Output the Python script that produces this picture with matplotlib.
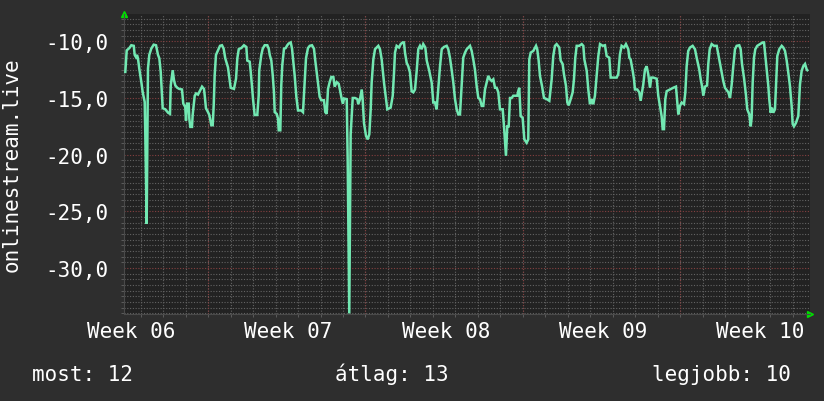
import numpy as np
import matplotlib
matplotlib.use("Agg")
import matplotlib.pyplot as plt
from matplotlib.ticker import FixedLocator, MultipleLocator, FuncFormatter, NullFormatter

# hours since start of graph window, and measured value
HOURS = [
    1.4, 2.9, 5.7, 7.8, 10.4, 11.4, 12.8, 13.9, 14.9, 16.3, 18.5, 20.0, 22.1, 22.7, 24.2, 24.9,
    25.6, 27.0, 29.1, 31.7, 34.2, 36.3, 37.7, 39.2, 40.6, 41.3, 44.1, 47.0, 49.1, 49.9, 52.0,
    53.4, 54.8, 56.9, 59.0, 61.9, 63.3, 65.4, 66.2, 67.3, 69.1, 69.7, 70.8, 72.6, 73.3, 75.5,
    76.9, 79.0, 81.5, 83.3, 85.4, 86.2, 87.5, 89.7, 91.1, 93.2, 94.7, 95.8, 96.8, 98.2, 100.4,
    102.5, 104.6, 106.4, 108.1, 111.0, 112.4, 113.9, 117.4, 119.6, 121.0, 122.5,
    123.5, 125.2, 128.1, 130.6, 131.6, 134.2, 135.3, 136.7, 137.7, 139.5, 142.3, 143.8, 144.4,
    146.6, 148.1, 150.2, 153.0, 154.5, 155.6, 157.3, 158.8, 160.1, 160.9, 163.0, 164.4, 165.2,
    166.9, 167.9, 169.0, 170.8, 172.6, 174.3, 175.8, 178.0, 179.4, 180.4, 182.2, 184.0, 185.8,
    189.3, 191.1, 192.9, 194.3, 196.4, 198.3, 200.7, 202.8, 204.2, 205.7, 207.1, 208.9, 210.6,
    213.5, 214.9, 216.4, 217.8, 219.6, 221.3, 223.5, 224.9, 227.1, 229.2, 230.6, 232.7, 233.8,
    234.9, 237.8, 238.8, 240.5, 242.0, 244.2, 246.6, 249.1, 250.1, 252.0, 253.8, 254.8, 256.2,
    258.4, 260.2, 261.9, 263.4, 264.4, 266.2, 268.0, 271.5, 273.3, 275.1, 277.6, 279.7, 281.1,
    284.7, 286.9, 288.3, 289.3, 291.1, 293.6, 295.4, 297.5, 298.9, 300.0, 301.8, 303.5, 305.3,
    307.1, 308.9, 310.7, 312.5, 314.2, 316.0, 317.8, 319.5, 321.7, 323.2, 325.9, 328.5, 330.2,
    332.0, 333.8, 335.6, 337.4, 339.2, 341.6, 344.5, 346.2, 348.0, 349.8, 351.6, 353.4, 355.2,
    356.9, 358.7, 360.5, 362.2, 364.1, 365.9, 369.4, 371.2, 372.9, 374.7, 376.5, 378.3, 380.1,
    381.9, 383.6, 385.4, 387.2, 388.9, 390.7, 392.5, 394.3, 396.1, 397.9, 399.6, 401.4, 404.3,
    405.7, 407.8, 409.2, 410.7, 412.1, 413.9, 415.6, 419.9, 420.9, 422.0, 423.5, 425.6, 427.4,
    429.9, 431.6, 432.7, 434.2, 437.0, 439.9, 441.2, 442.7, 444.1, 446.3, 448.4, 451.3, 454.1,
    456.6, 458.3, 460.1, 461.9, 464.7, 466.2, 468.3, 469.7, 471.9, 473.3, 474.8, 476.9, 479.0,
    480.4, 481.8, 483.3, 486.1, 488.7, 490.4, 491.5, 494.0, 495.7, 497.5, 499.3, 501.0, 502.8,
    504.6, 506.4, 508.2, 511.1, 513.5, 515.3, 518.1, 519.6, 522.4, 526.0, 527.7, 529.5, 531.3,
    533.8, 535.9, 538.4, 539.5, 540.9, 543.1, 544.5, 545.5, 548.0, 550.1, 551.6, 553.0, 554.4,
    556.2, 558.0, 559.7, 561.6, 562.9, 565.1, 568.7, 570.4, 572.2, 574.0, 575.1, 576.5, 577.9,
    579.4, 582.9, 586.4, 589.3, 590.1, 591.8, 593.6, 595.4, 597.9, 599.3, 600.7, 602.4, 604.3,
    607.1, 609.6, 611.4, 614.2, 615.7, 617.1, 618.5, 620.3, 622.5, 623.8, 625.3, 627.4, 629.9,
    632.8, 634.5, 636.3, 638.1, 639.8, 641.6, 645.2, 647.0, 648.8, 650.5, 652.3, 654.1, 656.9,
    658.4, 659.8, 661.9, 664.1, 665.4, 667.6, 669.1, 670.1, 671.2, 672.6, 674.0, 676.1, 679.0,
    681.9, 683.3, 684.7, 686.1, 687.9, 688.9, 690.4, 691.8, 693.2, 695.0, 696.1, 697.5, 699.6,
    702.2, 703.9, 705.7, 707.5, 709.2, 711.0, 712.8, 713.9, 715.3, 717.4, 719.9, 721.7, 723.5,
    725.2, 727.1, 728.9, 729.5,
]
VALUES = [
    -12.7, -10.8, -10.6, -10.35, -10.4, -11.2, -11.4, -11.2, -11.5, -12.4, -13.6, -14.5, -15.35, -18.0, -26.1, -18.9,
    -12.4, -11.2, -10.65, -10.3, -10.35, -11.2, -11.5, -12.7, -14.8, -15.9, -16.0, -16.3, -16.4, -13.9, -12.55,
    -13.45, -13.9, -14.1, -14.2, -14.25, -15.5, -15.8, -17.0, -15.5, -15.5, -16.8, -17.55, -17.55, -16.5, -14.8,
    -14.6, -14.7, -14.3, -14.0, -14.2, -14.8, -15.9, -16.25, -16.5, -17.4, -17.4, -15.6, -13.0, -11.2, -10.8,
    -10.4, -10.35, -10.65, -11.5, -12.3, -13.15, -14.1, -14.2, -13.3, -11.5, -10.7,
    -10.65, -10.6, -10.35, -10.5, -11.7, -11.8, -12.7, -14.0, -15.05, -16.5, -16.5, -14.8, -12.55,
    -11.2, -10.65, -10.35, -10.35, -10.65, -11.2, -11.7, -13.0, -14.5, -16.25, -16.4, -16.8, -17.85,
    -17.85, -13.9, -12.1, -10.65, -10.6, -10.35, -10.2, -10.1, -10.65, -11.5, -13.0, -14.9, -16.1,
    -16.1, -16.25, -13.6, -11.5, -10.6, -10.4, -10.35, -10.65, -11.7, -12.7, -13.6, -14.9, -15.2,
    -15.2, -16.25, -16.4, -14.2, -13.6, -13.15, -13.15, -14.0, -13.6, -13.75, -14.3, -15.2, -15.5,
    -15.05, -15.1, -20.4, -34.0, -18.2, -15.0, -15.0, -15.1, -15.55, -15.1, -14.25, -15.1, -17.2,
    -18.35, -18.65, -18.2, -16.0, -13.65, -11.6, -10.7, -10.4, -10.7, -11.6, -13.65, -15.1, -16.0,
    -15.85, -14.8, -12.75, -11.0, -10.4, -10.55, -10.25, -10.1, -10.1, -11.0, -11.9, -12.2, -12.75,
    -14.4, -14.5, -14.25, -12.6, -10.7, -10.4, -10.7, -10.25, -10.55, -11.7, -12.6, -13.65, -15.4,
    -15.4, -16.0, -14.1, -12.2, -10.7, -10.5, -10.4, -10.7, -11.45, -12.5, -13.65, -15.1, -16.0,
    -16.45, -16.45, -13.95, -11.45, -11.0, -10.7, -10.4, -10.85, -11.6, -12.5, -13.95, -15.0, -15.1,
    -15.7, -15.7, -14.25, -13.65, -13.05, -13.35, -13.5, -13.35, -14.1, -14.1, -14.5, -16.0, -16.0,
    -17.5, -20.1, -17.5, -17.5, -15.0, -15.0, -14.8, -14.8, -14.4, -14.1, -16.6, -16.75, -18.65,
    -18.95, -18.65, -11.6, -11.0, -10.85, -10.4, -10.7, -11.7, -13.05, -13.95, -15.0, -15.1, -15.25,
    -13.35, -11.3, -10.4, -10.25, -10.55, -11.7, -12.0, -12.9, -13.95, -15.4, -15.65, -15.1, -14.5,
    -13.35, -11.45, -10.4, -10.4, -10.25, -10.4, -11.6, -12.6, -14.25, -15.55, -15.1, -15.55, -14.8,
    -13.05, -11.3, -10.25, -10.4, -10.35, -11.3, -11.45, -13.2, -13.2, -13.2, -12.9, -11.15, -10.4,
    -10.55, -10.25, -10.7, -11.45, -11.6, -12.6, -13.35, -14.25, -14.25, -14.5, -15.25, -14.5, -13.8,
    -12.5, -12.2, -12.9, -14.1, -13.2, -13.2, -13.3, -14.8, -15.7, -16.6, -17.75, -17.75, -15.1,
    -14.4, -14.25, -14.1, -14.0, -14.8, -16.45, -15.7, -15.4, -15.55, -14.5, -12.2, -10.85, -10.55,
    -10.4, -10.7, -11.45, -12.5, -13.35, -13.95, -14.8, -14.0, -13.9, -12.0, -10.7, -10.25, -10.4,
    -10.4, -11.15, -11.9, -12.75, -13.5, -14.1, -14.5, -15.0, -13.8, -12.2, -10.7, -10.4, -10.35,
    -10.7, -12.0, -13.2, -14.8, -16.0, -16.45, -17.5, -16.75, -13.65, -11.45, -10.7, -10.4, -10.25,
    -10.1, -10.1, -11.3, -12.5, -13.95, -15.1, -16.3, -15.85, -16.3, -16.0, -13.95, -11.3, -10.7,
    -10.4, -10.55, -10.85, -11.7, -12.75, -13.95, -15.7, -17.3, -17.5, -17.2, -16.6, -13.8, -12.6,
    -12.2, -12.0, -12.5, -12.55,
]

WEEK_LABELS = ["Week 06", "Week 07", "Week 08", "Week 09", "Week 10"]
LEGEND = ["most: 12", "átlag: 13", "legjobb: 10"]
Y_TITLE = "onlinestream.live"

BG = "#2e2e2e"
PLOT_BG = "#222222"
LINE_C = "#72e8b2"
MINOR_C = "#636363"
MAJOR_C = "#854040"
TXT = "#ffffff"
FS = 15

plt.rcParams['font.family'] = ['DejaVu Sans Mono']

fig = plt.figure(figsize=(8.24, 4.02), dpi=100, facecolor=BG)
ax = fig.add_axes([124 / 824, 1 - 315 / 402, 686 / 824, 300.5 / 402])
ax.set_facecolor(PLOT_BG)

ax.set_xlim(0, 732.4)
ax.set_ylim(-34.05, -7.55)

# grid: daily / half unit minor, red majors
ax.xaxis.set_minor_locator(FixedLocator(np.arange(17.8, 732, 24)))
ax.yaxis.set_major_locator(MultipleLocator(5))
ax.yaxis.set_minor_locator(MultipleLocator(0.5))
ax.grid(which='minor', color=MINOR_C, linestyle=(0, (1, 1.5)), linewidth=0.8)
ax.yaxis.grid(True, which='major', color=MAJOR_C, linestyle=(0, (1, 1.5)), linewidth=0.8)
for xv in np.arange(89.8, 732, 168):
    ax.axvline(xv, color=MAJOR_C, linestyle=(0, (1, 1.5)), linewidth=0.8, zorder=1)
ax.set_axisbelow(True)

ax.set_xticks(np.arange(7.5, 732, 168))
ax.set_xticklabels(WEEK_LABELS)
ax.yaxis.set_major_formatter(FuncFormatter(lambda v, p: ("%.1f" % v).replace('.', ',')))
ax.yaxis.set_minor_formatter(NullFormatter())
ax.tick_params(axis='x', which='major', length=0, pad=5, labelsize=FS, labelcolor=TXT)
ax.tick_params(axis='y', which='major', length=0, pad=11.5, labelsize=FS, labelcolor=TXT)
ax.tick_params(which='minor', length=2, color=MINOR_C, direction='out')

for s in ['top', 'right']:
    ax.spines[s].set_visible(False)
for s in ['left', 'bottom']:
    ax.spines[s].set_color('#4a4a4a')
    ax.spines[s].set_linewidth(0.8)

ax.plot(HOURS, VALUES, color=LINE_C, linewidth=1.8, solid_joinstyle='miter', zorder=3)

# axis arrows
ax.plot([0.0], [1.0], marker='^', color='#00dd00', markersize=5, transform=ax.transAxes, clip_on=False)
ax.plot([1.0], [0.0], marker='>', color='#00dd00', markersize=5, transform=ax.transAxes, clip_on=False)

fig.text(12 / 824, 1 - 165 / 402, Y_TITLE, rotation=90, ha='center', va='center', color=TXT, fontsize=FS)
fig.text(32 / 824, 1 - 381 / 402, LEGEND[0], ha='left', va='baseline', color=TXT, fontsize=FS)
fig.text(392 / 824, 1 - 381 / 402, LEGEND[1], ha='center', va='baseline', color=TXT, fontsize=FS)
fig.text(791 / 824, 1 - 381 / 402, LEGEND[2], ha='right', va='baseline', color=TXT, fontsize=FS)

fig.savefig("out.png", dpi=100, facecolor=BG)
